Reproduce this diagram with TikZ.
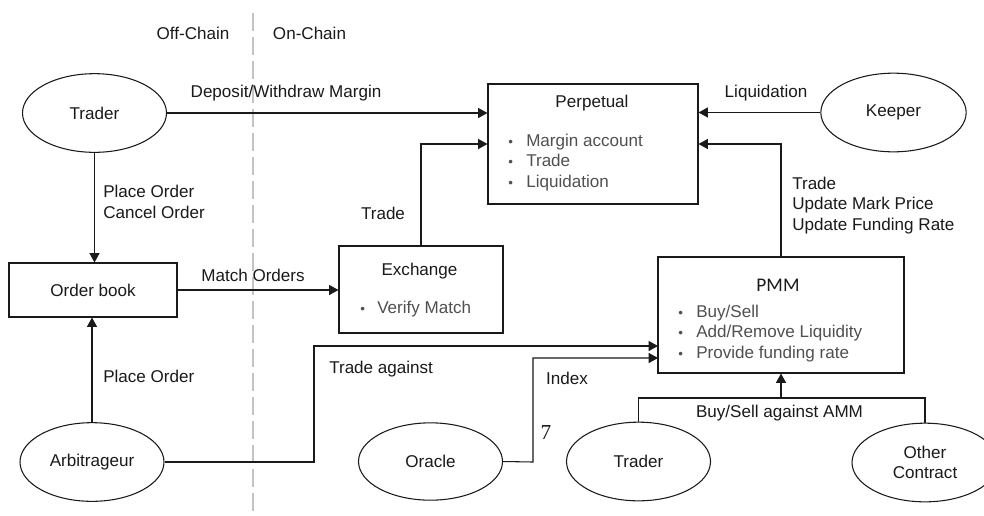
\documentclass[tikz,border=0pt]{standalone}
\usepackage{fontspec}
\setmainfont{Liberation Sans}
\newfontfamily\pmmfont{Carlito}
\newfontfamily\serifnum{Liberation Serif}
\usetikzlibrary{arrows.meta,shapes.geometric}
\definecolor{ink}{HTML}{1A1A1A}
\definecolor{soft}{HTML}{505050}
\definecolor{divider}{HTML}{C4C4C4}
\newcommand{\bul}{\makebox[13.5pt][l]{\fontsize{10}{10}\selectfont\textbullet}}
\tikzset{
  base/.style={font=\fontsize{12.8}{15.4}\selectfont, text=ink},
  actor/.style={base, draw=ink, line width=0.8pt, ellipse, inner sep=0pt, minimum width=108pt, minimum height=59pt, align=center},
  blockbox/.style={draw=ink, line width=0.8pt, rectangle, inner sep=0pt},
  lbl/.style={base, inner sep=0pt, align=left},
  blist/.style={base, text=soft, inner sep=0pt, align=left, anchor=west},
  link/.style={draw=ink, line width=0.8pt},
  arr/.style={link, -{Triangle[length=7pt,width=7.5pt]}}
}
\begin{document}
\begin{tikzpicture}[x=0.75pt,y=-0.75pt]
\clip (0,0) rectangle (984,515);
\fill[white] (0,0) rectangle (984,515);

% divider
\draw[divider, line width=0.8pt, dash pattern=on 13.5pt off 4.5pt] (253,13) -- (253,515);
\node[lbl] (offc) at (193,33) {Off-Chain};
\node[lbl] (onc) at (309.5,33) {On-Chain};

% actors
\node[actor] (trader1) at (94.5,113) {Trader};
\node[actor, minimum width=109pt] (keeper) at (893.5,112.5) {Keeper};
\node[actor] (arb) at (92,462) {Arbitrageur};
\node[actor, minimum height=58pt] (oracle) at (430.5,461.5) {Oracle};
\node[actor] (trader2) at (638.5,461.5) {Trader};
\node[actor, minimum width=109.5pt] (other) at (925,462.5) {Other\\Contract};

% boxes
\node[blockbox, minimum width=157.5pt, minimum height=90pt] (perp) at (593,144) {};
\node[blockbox, base, minimum width=126pt, minimum height=40.5pt] (ob) at (93,290) {Order book};
\node[blockbox, minimum width=123pt, minimum height=65.25pt] (exch) at (421,289.5) {};
\node[blockbox, minimum width=184.5pt, minimum height=87pt] (pmm) at (781,315) {};

% box contents
\node[lbl] (perpt) at (592,103) {Perpetual};
\node[blist] (perpl) at (508,162.5) {\bul Margin account\\\bul Trade\\\bul Liquidation};
\node[lbl] (excht) at (419.5,271) {Exchange};
\node[blist] (exchl) at (360,309) {\makebox[12.75pt][l]{\fontsize{10}{10}\selectfont\textbullet}Verify Match};
\node[lbl, font=\pmmfont\fontsize{14.5}{16}\selectfont] (pmmt) at (778,285) {PMM};
\node[blist] (pmml) at (678,333.5) {\bul Buy/Sell\\\bul Add/Remove Liquidity\\\bul Provide funding rate};

% connection points
\coordinate (pa) at (658,346);
\coordinate (pi) at (658,358);
\coordinate (abend) at (314,462);
\coordinate (orbend) at (533,462);
\coordinate (jn) at (781,398);

% connectors
\draw[arr] (trader1.east) -- (trader1.east -| perp.west);
\draw[arr] (keeper.west) -- (keeper.west -| perp.east);
\draw[arr] (exch.north) |- (perp.west);
\draw[arr] (pmm.north) |- (perp.east);
\draw[arr] (trader1.south) -- (trader1.south |- ob.north);
\draw[arr] (ob.east) -- (ob.east -| exch.west);
\draw[arr] (arb.north) -- (arb.north |- ob.south);
\draw[arr] (arb.east) -- (abend) |- (pa);
\draw[arr] (oracle.east) -- (orbend) |- (pi);
\draw[link] (trader2.north) |- (jn) -| (other.north);
\draw[arr] (jn) -- (pmm.south);

% connector labels
\node[lbl] (ldep) at (286,93) {Deposit/Withdraw Margin};
\node[lbl] (lliq) at (766,93) {Liquidation};
\node[lbl] (ltrade) at (383,213) {Trade};
\node[lbl, anchor=west] (lplace1) at (103,202) {Place Order\\Cancel Order};
\node[lbl] (lmatch) at (253,275) {Match Orders};
\node[lbl, anchor=west] (lplace2) at (103,376) {Place Order};
\node[lbl, anchor=west] (lagainst) at (329,369) {Trade against};
\node[lbl] (lindex) at (567,378) {Index};
\node[lbl, font=\serifnum\fontsize{16}{16}\selectfont] (lseven) at (546,433) {7};
\node[lbl] (lamm) at (779.5,413) {Buy/Sell against AMM};
\node[lbl, anchor=west] (lupd) at (792,205.5) {Trade\\Update Mark Price\\Update Funding Rate};
\end{tikzpicture}
\end{document}
